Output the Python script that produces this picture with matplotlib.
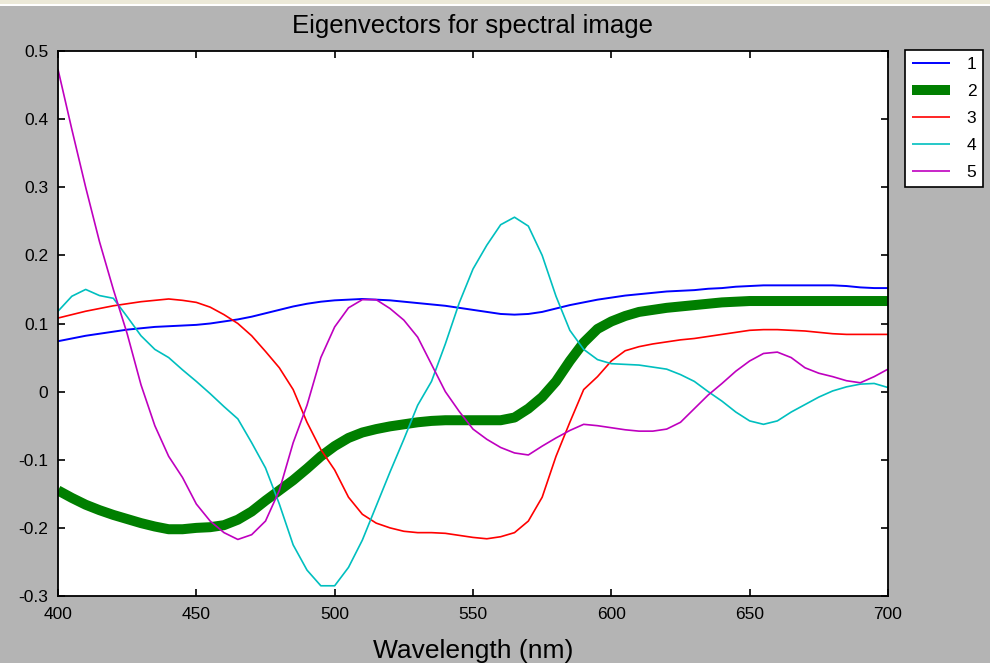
import matplotlib
matplotlib.use("Agg")
import matplotlib.pyplot as plt
from matplotlib.patches import Rectangle

wavelength = list(range(400, 701, 5))

ev1 = [.074, .078, .082, .085, .088, .091, .093, .095, .096, .097, .098, .100, .103, .106, .110, .115,
       .120, .125, .129, .132, .134, .135, .136, .135, .134, .132, .130, .128, .126, .123, .120, .117,
       .114, .113, .114, .117, .122, .127, .131, .135, .138, .141, .143, .145, .147, .148, .149, .151,
       .152, .154, .155, .156, .156, .156, .156, .156, .156, .155, .153, .152, .152]

ev2 = [-.145, -.156, -.166, -.174, -.181, -.187, -.193, -.198, -.202, -.202, -.200, -.199, -.196, -.188,
       -.176, -.160, -.145, -.130, -.113, -.095, -.080, -.068, -.060, -.055, -.051, -.048, -.045, -.043,
       -.042, -.042, -.042, -.042, -.042, -.038, -.025, -.008, .015, .045, .072, .092, .103, .111, .117,
       .120, .123, .125, .127, .129, .131, .132, .133, .133, .133, .133, .133, .133, .133, .133, .133,
       .133, .133]

ev3 = [.108, .113, .118, .122, .126, .129, .132, .134, .136, .134, .131, .124, .113, .100, .082, .059,
       .035, .003, -.045, -.085, -.115, -.155, -.180, -.193, -.200, -.205, -.207, -.207, -.208, -.211,
       -.214, -.216, -.213, -.207, -.190, -.155, -.095, -.045, .003, .022, .045, .060, .066, .070, .073,
       .076, .078, .081, .084, .087, .090, .091, .091, .090, .089, .087, .085, .084, .084, .084, .084]

ev4 = [.118, .140, .150, .141, .137, .110, .082, .062, .050, .032, .015, -.003, -.022, -.040, -.075,
       -.112, -.165, -.225, -.262, -.285, -.285, -.258, -.218, -.168, -.118, -.070, -.020, .015, .070,
       .130, .180, .215, .245, .256, .243, .200, .140, .090, .062, .047, .041, .040, .039, .036, .033,
       .025, .015, .000, -.014, -.030, -.043, -.048, -.043, -.030, -.019, -.008, .001, .007, .011, .012,
       .006]

ev5 = [.473, .385, .300, .220, .150, .085, .010, -.050, -.095, -.126, -.165, -.190, -.207, -.217, -.210,
       -.190, -.145, -.075, -.020, .050, .095, .123, .135, .135, .122, .105, .080, .040, .000, -.029,
       -.055, -.070, -.082, -.090, -.093, -.080, -.068, -.057, -.048, -.050, -.053, -.056, -.058, -.058,
       -.055, -.045, -.025, -.005, .012, .030, .045, .056, .058, .050, .035, .027, .022, .016, .013,
       .022, .033]

labels = ["1", "2", "3", "4", "5"]
colors = ["#0000ff", "#007f00", "#ff0000", "#00bfbf", "#bf00bf"]
widths = [1.4, 7.2, 1.2, 1.2, 1.2]

plt.rcParams['font.family'] = ['Liberation Sans', 'DejaVu Sans']

W, H = 990, 663
fig = plt.figure(figsize=(W / 100, H / 100), dpi=100)
fig.patch.set_facecolor("#b4b4b4")
fig.patches.append(Rectangle((0, 1 - 4 / H), 1, 4 / H, transform=fig.transFigure,
                             facecolor="#ece9d8", edgecolor="none"))
fig.patches.append(Rectangle((0, 1 - 6 / H), 1, 2 / H, transform=fig.transFigure,
                             facecolor="#ffffff", edgecolor="none"))

ax = fig.add_axes([58 / W, (H - 596) / H, (888 - 58) / W, (596 - 51) / H])
ax.set_facecolor("white")

series = [ev1, ev2, ev3, ev4, ev5]
for vals, lab, c, lw in zip(series, labels, colors, widths):
    ax.plot(wavelength, vals, color=c, lw=lw, label=lab, solid_capstyle='butt')

ax.set_xlim(400, 700)
ax.set_ylim(-0.3, 0.5)
ax.set_xticks([400, 450, 500, 550, 600, 650, 700])
ax.set_yticks([-0.3, -0.2, -0.1, 0, 0.1, 0.2, 0.3, 0.4, 0.5])
ax.set_yticklabels(["-0.3", "-0.2", "-0.1", "0", "0.1", "0.2", "0.3", "0.4", "0.5"])
ax.tick_params(direction='in', length=5, width=1.2, top=True, right=True,
               labelsize=12.5, colors='black')
ax.tick_params(axis='y', pad=7)
ax.tick_params(axis='x', pad=8)
for s in ax.spines.values():
    s.set_linewidth(1.3)
    s.set_color('black')

ax.set_title("Eigenvectors for spectral image", fontsize=18.5, pad=13)
ax.set_xlabel("Wavelength (nm)", fontsize=19, labelpad=12)

leg = fig.legend(loc='upper left', bbox_to_anchor=(905 / W, 1 - 50 / H),
                 fontsize=12.5, frameon=True, fancybox=False, handlelength=2.2,
                 handletextpad=0.95, labelspacing=0.68, borderpad=0.4, borderaxespad=0,
                 framealpha=1, facecolor='white')
leg.get_frame().set_edgecolor('black')
leg.get_frame().set_linewidth(1.2)

fig.savefig("out.png", dpi=100, facecolor=fig.get_facecolor())
